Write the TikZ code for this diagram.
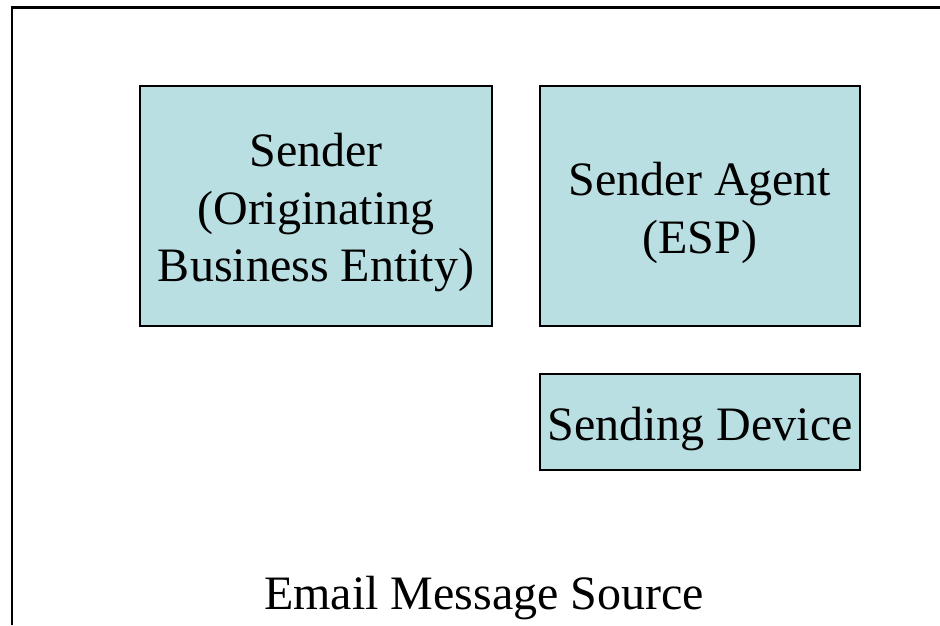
\documentclass[tikz,border=0pt]{standalone}
\usepackage{fontspec}
\setmainfont{Liberation Serif}
\definecolor{boxfill}{HTML}{B9DFE2}
\begin{document}
\begin{tikzpicture}[x=1pt,y=-1pt,
  box/.style={draw=black, line width=1.8pt, fill=boxfill},
  lbl/.style={align=center, inner sep=0pt, font=\fontsize{48}{57.5}\selectfont}]
\useasboundingbox (0,0) rectangle (940,625);
\coordinate (fl) at (12,625);
\coordinate (fc) at (12,7.5);
\coordinate (fr) at (940,7.5);
\draw[line width=2.2pt] (fl) -- (fc) -- (fr);
\node[box, minimum width=352pt, minimum height=240pt] (sender) at (316,206) {};
\node[box, minimum width=320pt, minimum height=240pt] (agent) at (700,206) {};
\node[box, minimum width=320pt, minimum height=96pt] (device) at (700,422) {};
\node[lbl] (senderT) at (316,213) {Sender\\(Originating\\Business Entity)};
\node[lbl] (agentT) at (700,213) {Sender Agent\\(ESP)};
\node[lbl] (deviceT) at (700,429) {Sending Device};
\node[lbl, anchor=base] (source) at (484,609) {Email Message Source};
\end{tikzpicture}
\end{document}
